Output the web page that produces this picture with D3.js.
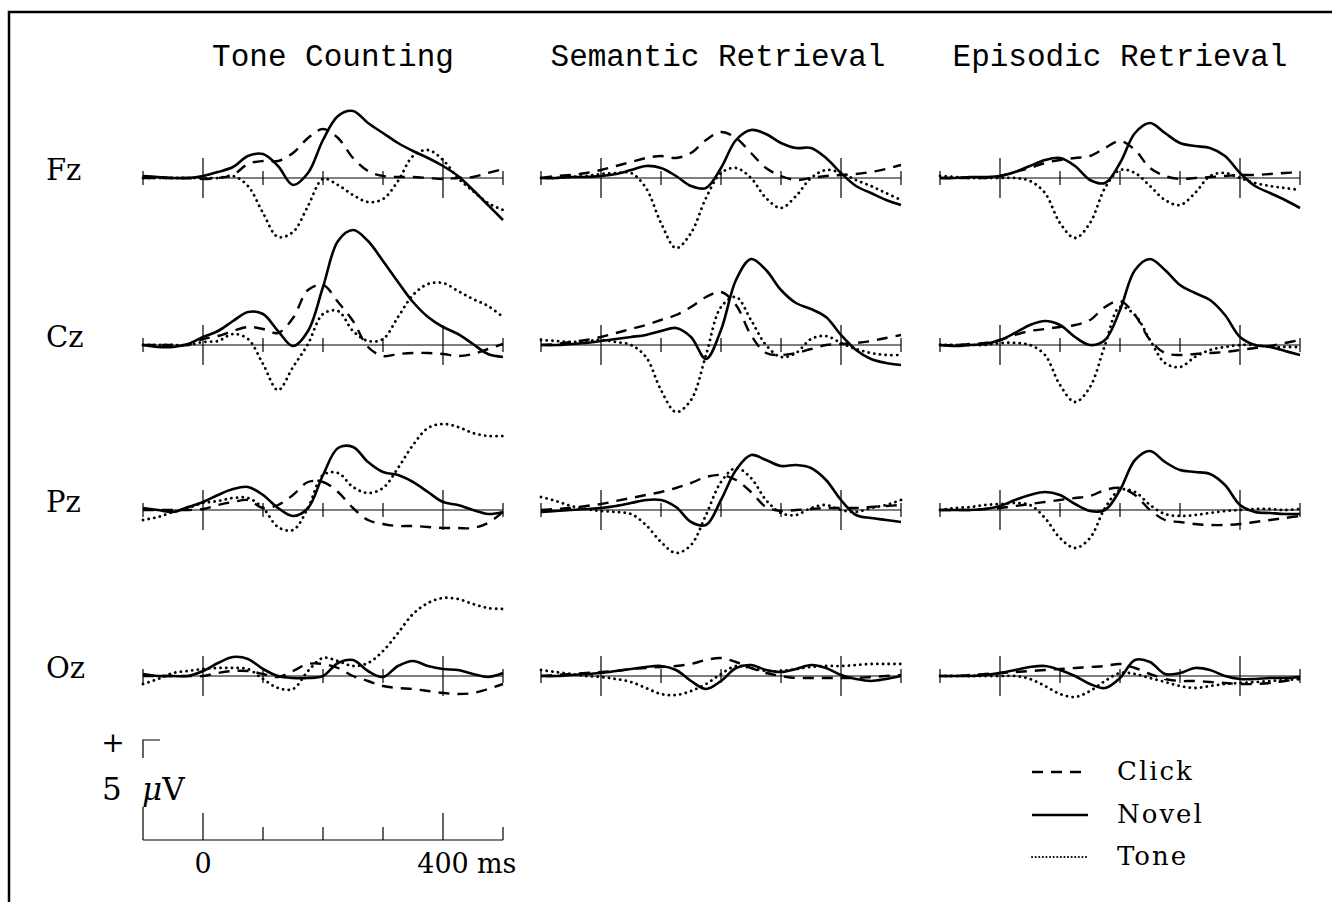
<!DOCTYPE html>
<html>
<head>
<meta charset="utf-8">
<script src="https://cdnjs.cloudflare.com/ajax/libs/d3/7.8.5/d3.min.js"></script>
<style>
  body { margin: 0; background: #fff; }
  svg { display: block; }
</style>
</head>
<body>
<svg width="1332" height="902"></svg>
<script>
// ERP grand averages, values in microvolts, positive up
var tasks = ["Tone Counting", "Semantic Retrieval", "Episodic Retrieval"];
var sites = ["Fz", "Cz", "Pz", "Oz"];
var conditions = ["Click", "Novel", "Tone"];
var times = [-100, -75, -50, -25, 0, 25, 50, 75, 100, 125, 150, 175, 200,
             225, 250, 275, 300, 325, 350, 375, 400, 425, 450, 475, 500];
var minorTicks = [-100, 100, 200, 300, 500];
var majorTicks = [0, 400];
var scaleLabels = [0, 400];

// one row per site: Fz, Cz, Pz, Oz
var toneClick = [
  [0,0,0,0,-0.05,0,0.15,0.7,0.85,0.85,1.25,2,2.45,2,1,0.35,0.1,0.05,0.05,0,-0.05,0,0.05,0.25,0.45],
  [0,0,0,0,0.3,0.45,0.7,0.9,0.8,0.6,1.35,2.75,3,2.15,1.2,-0.1,-0.55,-0.45,-0.4,-0.4,-0.45,-0.55,-0.45,-0.2,0.05],
  [0,0,0,0,0.05,0.25,0.4,0.5,0.1,0.25,0.75,1.4,1.4,0.9,0.1,-0.5,-0.7,-0.8,-0.8,-0.85,-0.9,-0.9,-0.9,-0.65,-0.1],
  [0,0,0,0,0,0.15,0.25,0.25,0.1,-0.05,0.25,0.6,0.6,0.4,0,-0.25,-0.5,-0.6,-0.65,-0.75,-0.85,-0.9,-0.85,-0.65,-0.4]
];
var toneNovel = [
  [0.1,0.05,0,0,0.1,0.3,0.55,1.1,1.2,0.6,-0.35,0.25,1.9,3.1,3.35,2.75,2.25,1.75,1.35,1,0.6,0.1,-0.6,-1.35,-2.1],
  [0,-0.1,-0.1,0.05,0.4,0.7,1.2,1.65,1.55,0.7,-0.05,0.7,2.9,5.2,5.75,5.2,4.2,3.15,2.15,1.4,0.9,0.55,0.05,-0.45,-0.6],
  [0.1,0,-0.1,0.15,0.4,0.75,1.05,1.15,0.75,0.1,-0.3,0.1,1.75,3.1,3.15,2.4,1.9,1.75,1.4,0.9,0.4,0.25,0,-0.2,-0.1],
  [0.1,0,0,0,0.25,0.65,0.95,0.85,0.35,0,-0.1,-0.1,0,0.65,0.8,0.25,-0.05,0.5,0.75,0.5,0.35,0.3,0.1,-0.05,0.15]
];
var toneTone = [
  [0,0,0,0,0,0,0.1,-0.4,-1.75,-2.95,-2.7,-1.4,-0.05,-0.35,-0.85,-1.2,-1.05,-0.15,1.1,1.4,0.9,0,-0.65,-1.25,-1.6],
  [0,0,0,0,0.15,0.2,0.55,0.3,-0.95,-2.25,-1.1,0.05,1.55,1.7,0.7,0.2,0.3,1.4,2.5,3.05,3.1,2.7,2.3,1.95,1.4],
  [-0.5,-0.35,-0.1,0.1,0.35,0.45,0.6,0.6,0.1,-0.85,-1,0.1,1.75,1.85,1.15,0.85,1.1,2.1,3.25,4.1,4.3,4.15,3.85,3.7,3.7],
  [-0.4,-0.15,0.15,0.25,0.35,0.4,0.4,0.35,-0.15,-0.6,-0.65,0.25,0.9,0.75,0.5,0.65,1.25,2.15,3.1,3.65,3.9,3.85,3.6,3.4,3.35]
];

var semanticClick = [
  [0,0.1,0.15,0.25,0.4,0.6,0.8,1,1.1,1,1.25,1.9,2.3,2,1.25,0.5,0.1,-0.1,0,0.1,0.15,0.2,0.3,0.45,0.65],
  [0,0.05,0.15,0.25,0.4,0.6,0.8,1,1.25,1.5,1.9,2.4,2.65,2,0.5,-0.4,-0.5,-0.4,-0.2,0,0.05,0.1,0.2,0.35,0.5],
  [0,0.05,0.1,0.2,0.3,0.45,0.6,0.75,0.9,1.1,1.35,1.65,1.75,1.5,0.9,0.15,-0.05,0,0.05,0.1,0.1,0.1,0.15,0.2,0.25],
  [0,0.05,0.1,0.15,0.2,0.25,0.35,0.4,0.45,0.5,0.6,0.8,0.9,0.7,0.4,0.15,0,-0.1,-0.1,-0.1,-0.1,-0.1,-0.05,0,0.05]
];
var semanticNovel = [
  [0,0,0.05,0.05,0.1,0.2,0.4,0.6,0.5,0.1,-0.4,-0.5,0.5,1.9,2.4,2.2,1.75,1.5,1.5,1,0.25,-0.4,-0.75,-1.1,-1.35],
  [0,0,0.05,0.1,0.2,0.3,0.4,0.5,0.7,0.85,0.4,-0.7,0.75,3.25,4.3,3.75,2.75,2.1,1.8,1.4,0.5,-0.25,-0.7,-0.9,-1],
  [-0.1,-0.05,0,0.05,0.1,0.2,0.35,0.5,0.5,0.15,-0.6,-0.75,0.5,2,2.75,2.5,2.2,2.25,2.1,1.5,0.5,-0.25,-0.4,-0.5,-0.6],
  [0,0,0.05,0.1,0.15,0.25,0.35,0.45,0.5,0.3,-0.25,-0.65,-0.25,0.4,0.55,0.3,0.2,0.35,0.55,0.4,0.05,-0.15,-0.25,-0.15,0]
];
var semanticTone = [
  [0,0,0.05,0.1,0.2,0.25,0.25,-0.5,-2.25,-3.5,-2.75,-1,0.25,0.5,0,-1,-1.5,-0.9,0,0.4,0.25,-0.1,-0.4,-0.75,-1.1],
  [0.25,0.2,0.15,0.2,0.25,0.15,0,-0.6,-2.25,-3.35,-2.75,-0.5,1.9,2.4,1.25,0,-0.6,-0.4,0.3,0.45,0.1,-0.2,-0.4,-0.5,-0.5],
  [0.65,0.45,0.2,0.05,-0.05,-0.1,-0.2,-0.75,-1.6,-2.15,-1.75,-0.25,1.4,2.1,1.6,0.5,-0.15,-0.25,0.1,0.25,0,-0.1,0.1,0.25,0.5],
  [0.3,0.2,0.1,0,-0.05,-0.15,-0.3,-0.6,-0.9,-0.95,-0.75,-0.4,0.1,0.5,0.4,0.25,0.25,0.35,0.45,0.5,0.5,0.55,0.6,0.6,0.6]
];

var episodicClick = [
  [0,0,0,0,0.1,0.3,0.5,0.75,0.9,1,1.1,1.5,1.85,1.4,0.5,0.1,-0.05,0,0.05,0.1,0.15,0.15,0.2,0.25,0.3],
  [0,0,0.05,0.1,0.25,0.5,0.7,0.8,0.9,1,1.25,1.9,2.2,1.5,0.25,-0.4,-0.5,-0.45,-0.4,-0.35,-0.25,-0.15,-0.05,0.1,0.25],
  [0,0,0,0.05,0.1,0.2,0.3,0.4,0.5,0.6,0.7,1,1.1,0.75,0,-0.5,-0.6,-0.7,-0.75,-0.75,-0.7,-0.6,-0.5,-0.4,-0.3],
  [0,0,0.05,0.1,0.15,0.2,0.25,0.3,0.35,0.4,0.45,0.5,0.6,0.4,0.1,-0.15,-0.25,-0.25,-0.3,-0.35,-0.4,-0.4,-0.35,-0.25,-0.15]
];
var episodicNovel = [
  [0,0,0.05,0.05,0.1,0.3,0.6,0.9,1,0.6,-0.1,-0.25,0.75,2.25,2.75,2.25,1.75,1.6,1.5,1.1,0.25,-0.4,-0.75,-1.1,-1.5],
  [0,-0.05,0,0.05,0.25,0.6,1,1.2,1,0.4,0,0.25,1.75,3.75,4.3,3.75,3,2.6,2.25,1.5,0.4,0,-0.1,-0.3,-0.5],
  [0,0,0,0.05,0.2,0.5,0.75,0.9,0.75,0.3,-0.05,0,1,2.5,2.95,2.4,2,1.9,1.8,1.25,0.25,-0.1,-0.15,-0.2,-0.2],
  [0,0,0,0.05,0.15,0.3,0.45,0.5,0.3,0,-0.4,-0.6,-0.1,0.8,0.7,0.1,0.15,0.4,0.3,0,-0.15,-0.15,-0.1,-0.1,-0.05]
];
var episodicTone = [
  [0.1,0.05,0,0,0,0,-0.15,-0.75,-2.25,-3,-2.25,-0.5,0.4,0.25,-0.4,-1.1,-1.35,-0.75,0.1,0.25,0,-0.25,-0.4,-0.5,-0.6],
  [0,0,0,0,0.1,0.1,0,-0.5,-2,-2.85,-2.1,0,1.9,1.5,0.25,-0.9,-1.1,-0.6,-0.25,-0.1,0,0,-0.1,-0.1,-0.1],
  [0,0.1,0.15,0.25,0.3,0.35,0.25,-0.4,-1.4,-1.9,-1.4,0.1,1,0.9,0.25,-0.2,-0.3,-0.25,-0.15,-0.05,0,0.05,0.05,0,0.05],
  [0,0,0,0,0,0,-0.15,-0.5,-0.9,-1.05,-0.75,-0.25,0.15,0.1,-0.1,-0.3,-0.5,-0.6,-0.5,-0.4,-0.35,-0.3,-0.25,-0.2,-0.15]
];

var taskData = [
  [toneClick, toneNovel, toneTone],
  [semanticClick, semanticNovel, semanticTone],
  [episodicClick, episodicNovel, episodicTone]
];

var svg = d3.select("svg");

var serif = "'DejaVu Serif', 'Liberation Serif', serif";
var mono = "'Liberation Mono', 'DejaVu Sans Mono', monospace";

// layout
var colLeft = [143, 541, 940],
    panelWidth = 360,
    rowBase = [178, 345, 510, 676],
    titleX = [333, 718, 1120];

// microvolts -> pixel offset from baseline (5 uV = 100 px)
var y = d3.scaleLinear().domain([-5, 5]).range([100, -100]);

var styles = {
  Click: {dash: "11 8", width: 2.4, cap: "butt"},
  Novel: {dash: null, width: 2.6, cap: "butt"},
  Tone:  {dash: "0.1 5.6", width: 2.8, cap: "round"}
};

// frame
svg.append("path")
  .attr("d", "M9,902V12H1332")
  .attr("fill", "none")
  .attr("stroke", "#000")
  .attr("stroke-width", 2.5);

// column titles
svg.selectAll(".title")
  .data(tasks).enter()
  .append("text")
  .attr("class", "title")
  .attr("x", function(d, i) { return titleX[i]; })
  .attr("y", 66)
  .attr("text-anchor", "middle")
  .style("font-family", mono)
  .style("font-size", "31px")
  .text(function(d) { return d; });

// row labels
svg.selectAll(".site")
  .data(sites).enter()
  .append("text")
  .attr("class", "site")
  .attr("x", 46)
  .attr("y", function(d, i) { return rowBase[i] + 2; })
  .style("font-family", serif)
  .style("font-size", "29px")
  .text(function(d) { return d; });

tasks.forEach(function(task, c) {
  var x = d3.scaleLinear()
    .domain([times[0], times[times.length - 1]])
    .range([colLeft[c], colLeft[c] + panelWidth]);

  sites.forEach(function(site, r) {
    var base = rowBase[r];
    var g = svg.append("g").attr("transform", "translate(0," + base + ")");

    // baseline and ticks
    g.append("line")
      .attr("x1", x(times[0])).attr("x2", x(times[times.length - 1]))
      .attr("y1", 0).attr("y2", 0)
      .attr("stroke", "#000").attr("stroke-width", 1.2);

    g.selectAll(".minor")
      .data(minorTicks).enter()
      .append("line")
      .attr("x1", function(d) { return x(d); })
      .attr("x2", function(d) { return x(d); })
      .attr("y1", -7).attr("y2", 7)
      .attr("stroke", "#000").attr("stroke-width", 1.2);

    g.selectAll(".major")
      .data(majorTicks).enter()
      .append("line")
      .attr("x1", function(d) { return x(d); })
      .attr("x2", function(d) { return x(d); })
      .attr("y1", -20).attr("y2", 20)
      .attr("stroke", "#000").attr("stroke-width", 1.2);

    var line = d3.line()
      .x(function(d, i) { return x(times[i]); })
      .y(function(d) { return y(d); })
      .curve(d3.curveCatmullRom.alpha(0.5));

    conditions.forEach(function(cond, k) {
      var s = styles[cond];
      g.append("path")
        .datum(taskData[c][k][r])
        .attr("d", line)
        .attr("fill", "none")
        .attr("stroke", "#000")
        .attr("stroke-width", s.width)
        .attr("stroke-linecap", s.cap)
        .attr("stroke-linejoin", "round")
        .attr("stroke-dasharray", s.dash);
    });
  });
});

// time / voltage scale bar, bottom left
var xs = d3.scaleLinear()
  .domain([times[0], times[times.length - 1]])
  .range([colLeft[0], colLeft[0] + panelWidth]);
var scaleBase = 840;
var sb = svg.append("g").attr("transform", "translate(0," + scaleBase + ")");

sb.append("line")
  .attr("x1", xs(-100)).attr("x2", xs(500))
  .attr("y1", 0).attr("y2", 0)
  .attr("stroke", "#000").attr("stroke-width", 1.2);

sb.selectAll(".minor")
  .data([100, 200, 300, 500]).enter()
  .append("line")
  .attr("x1", function(d) { return xs(d); })
  .attr("x2", function(d) { return xs(d); })
  .attr("y1", -13).attr("y2", 0)
  .attr("stroke", "#000").attr("stroke-width", 1.2);

sb.selectAll(".major")
  .data(majorTicks).enter()
  .append("line")
  .attr("x1", function(d) { return xs(d); })
  .attr("x2", function(d) { return xs(d); })
  .attr("y1", -27).attr("y2", 0)
  .attr("stroke", "#000").attr("stroke-width", 1.2);

// 5 uV calibration: vertical bar broken by its label
var top5 = -y(5); // 100 px
sb.append("path")
  .attr("d", "M" + xs(-100) + "," + (-top5 + 18) + "V" + (-top5) + "H" + (xs(-100) + 17) +
             "M" + xs(-100) + ",-33V0")
  .attr("fill", "none")
  .attr("stroke", "#000").attr("stroke-width", 1.2);

sb.append("text")
  .attr("x", 113).attr("y", -top5 + 12)
  .attr("text-anchor", "middle")
  .style("font-family", serif).style("font-size", "28px")
  .text("+");

sb.append("text")
  .attr("x", 102).attr("y", -40)
  .style("font-family", serif).style("font-size", "31px")
  .text("5");

sb.append("text")
  .attr("x", xs(-100) - 1).attr("y", -40)
  .style("font-family", serif).style("font-size", "31px")
  .html("<tspan font-style='italic'>&#956;</tspan>V");

sb.selectAll(".lab")
  .data(scaleLabels).enter()
  .append("text")
  .attr("class", "lab")
  .attr("x", function(d) { return xs(d); })
  .attr("y", 33)
  .attr("text-anchor", "middle")
  .style("font-family", serif).style("font-size", "27px")
  .text(function(d) { return d; });

sb.append("text")
  .attr("x", xs(400) + 34).attr("y", 33)
  .style("font-family", serif).style("font-size", "27px")
  .text("ms");

// legend
var legY = [772, 815, 857];
var lg = svg.append("g");
conditions.forEach(function(cond, k) {
  var s = styles[cond];
  lg.append("line")
    .attr("x1", 1032).attr("x2", 1088)
    .attr("y1", legY[k]).attr("y2", legY[k])
    .attr("stroke", "#000")
    .attr("stroke-width", cond == "Tone" ? 2 : s.width)
    .attr("stroke-linecap", s.cap)
    .attr("stroke-dasharray", cond == "Tone" ? "0.1 3.5" : s.dash);
  lg.append("text")
    .attr("x", 1117).attr("y", legY[k] + 8)
    .style("font-family", serif).style("font-size", "26px")
    .attr("letter-spacing", "2px")
    .text(cond);
});
</script>
</body>
</html>
